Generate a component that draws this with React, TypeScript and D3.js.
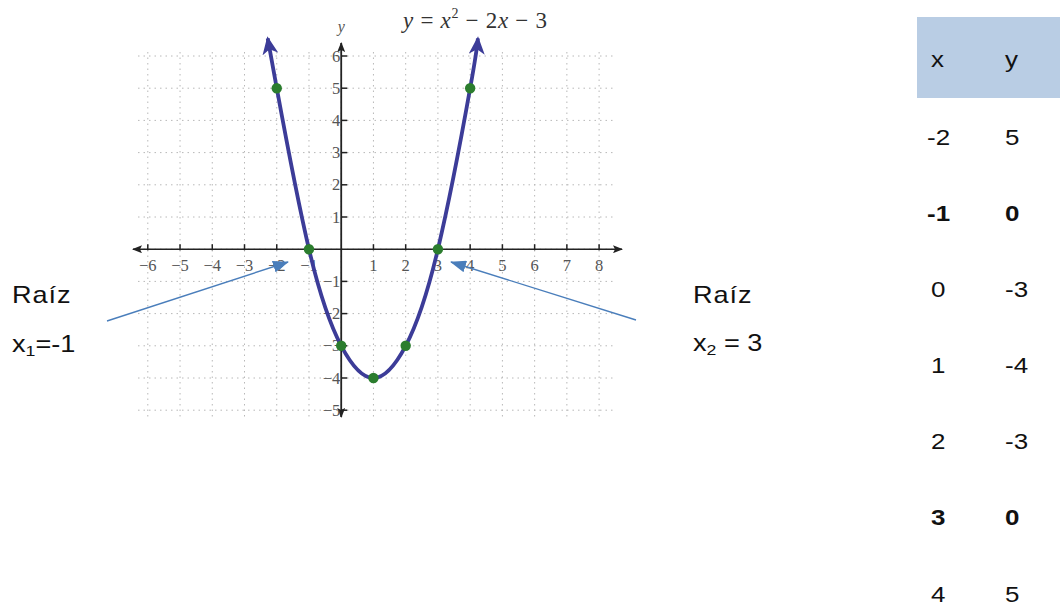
import React from 'react';
import { scaleLinear, scalePoint, line, curveNatural, range } from 'd3';

// table / points
const xVals = [-2, -1, 0, 1, 2, 3, 4];
const yVals = [5, 0, -3, -4, -3, 0, 5];
const rootRows = [1, 5];
// curve ends (arrow tips)
const curveStart = [-2.28, 6.55];
const curveEnd = [4.24, 6.55];
const xTicks = range(-6, 9).filter((d) => d !== 0);
const yTicks = range(-5, 7).filter((d) => d !== 0);

const W = 1060;
const H = 608;

const fmt = (d: number) => (d < 0 ? '\u2212' + Math.abs(d) : String(d));

export default function App() {
	const x = scaleLinear().domain([-6, 8]).range([147.8, 599.1]);
	const y = scaleLinear().domain([-5, 6]).range([410.2, 56]);
	const rowY = scalePoint<number>().domain(range(xVals.length)).range([137, 594]);

	const pts: [number, number][] = [
		[curveStart[0], curveStart[1]],
		...xVals.map((v, i) => [v, yVals[i]] as [number, number]),
		[curveEnd[0], curveEnd[1]],
	];
	const path = line<[number, number]>()
		.x((d) => x(d[0]))
		.y((d) => y(d[1]))
		.curve(curveNatural)(pts);

	const serif = '"Liberation Serif", "DejaVu Serif", serif';
	const sans = '"Liberation Sans", Arial, sans-serif';
	const gridX = range(-6, 9);
	const gridY = range(-5, 7);
	const gLeft = 138;
	const gRight = 616;
	const gTop = 48;
	const gBottom = 417;
	const sx = 1.18; // the sans text in the picture is a bit wide

	const wide = (tx: number, ty: number) => `translate(${tx},${ty}) scale(${sx},1)`;

	return (
		<svg
			width={W}
			height={H}
			style={{ position: 'absolute', left: 0, top: 0, background: '#fff' }}
		>
			<defs>
				<marker id="curveArrow" markerUnits="userSpaceOnUse" markerWidth="18" markerHeight="16"
					viewBox="0 0 18 16" refX="16" refY="8" orient="auto-start-reverse">
					<path d="M0,0 L18,8 L0,16 L5,8 Z" fill="#3c3c98" />
				</marker>
				<marker id="axisArrow" markerUnits="userSpaceOnUse" markerWidth="10" markerHeight="8"
					viewBox="0 0 10 8" refX="9" refY="4" orient="auto-start-reverse">
					<path d="M0,0 L10,4 L0,8 L2,4 Z" fill="#222" />
				</marker>
				<marker id="blueArrow" markerUnits="userSpaceOnUse" markerWidth="16" markerHeight="12"
					viewBox="0 0 16 12" refX="15" refY="6" orient="auto">
					<path d="M0,0 L16,6 L0,12 Z" fill="#4a7ebb" />
				</marker>
			</defs>

			{/* dotted grid */}
			<g stroke="#b8b8b8" strokeWidth={1} strokeDasharray="1.5,4">
				{gridX.map((d) => (
					<line key={'gx' + d} x1={x(d)} x2={x(d)} y1={gTop + 4} y2={gBottom} />
				))}
				{gridY.map((d) => (
					<line key={'gy' + d} x1={gLeft} x2={gRight} y1={y(d)} y2={y(d)} />
				))}
			</g>

			{/* axes */}
			<line x1={133} x2={622} y1={y(0)} y2={y(0)} stroke="#222" strokeWidth={1.6}
				markerStart="url(#axisArrow)" markerEnd="url(#axisArrow)" />
			<line x1={x(0)} x2={x(0)} y1={gBottom} y2={43} stroke="#222" strokeWidth={1.8}
				markerStart="url(#axisArrow)" markerEnd="url(#axisArrow)" />
			<g stroke="#222" strokeWidth={1.5}>
				{xTicks.map((d) => (
					<line key={'tx' + d} x1={x(d)} x2={x(d)} y1={y(0) - 5} y2={y(0) + 1} />
				))}
				{yTicks.map((d) => (
					<line key={'ty' + d} x1={x(0)} x2={x(0) + 6} y1={y(d)} y2={y(d)} />
				))}
			</g>
			<g fontFamily={serif} fontSize={16.5} fill="#555">
				{xTicks.map((d) => (
					<text key={'lx' + d} x={x(d)} y={y(0) + 22} textAnchor="middle">
						{fmt(d)}
					</text>
				))}
				{yTicks.map((d) => (
					<text key={'ly' + d} x={x(0) - 1} y={y(d) + 5.5} textAnchor="end">
						{fmt(d)}
					</text>
				))}
			</g>
			<text x={x(0)} y={32} textAnchor="middle" fontFamily={serif} fontStyle="italic"
				fontSize={16} fill="#555">
				y
			</text>

			{/* equation */}
			<text x={403} y={28} fontFamily={serif} fontSize={23} fill="#333"
				textLength={144} lengthAdjust="spacing">
				<tspan fontStyle="italic">y</tspan>
				<tspan> = </tspan>
				<tspan fontStyle="italic">x</tspan>
				<tspan fontSize={14} dy={-10}>2</tspan>
				<tspan dy={10}> − 2</tspan>
				<tspan fontStyle="italic">x</tspan>
				<tspan> − 3</tspan>
			</text>

			{/* parabola */}
			<path d={path || ''} fill="none" stroke="#3c3c98" strokeWidth={3.8}
				markerStart="url(#curveArrow)" markerEnd="url(#curveArrow)" />
			{xVals.map((v, i) => (
				<circle key={'p' + i} cx={x(v)} cy={y(yVals[i])} r={5.2} fill="#2b7d2e" />
			))}

			{/* root annotations */}
			<line x1={107} y1={321} x2={288} y2={262} stroke="#4a7ebb" strokeWidth={1.4}
				markerEnd="url(#blueArrow)" />
			<line x1={636} y1={320} x2={451} y2={262} stroke="#4a7ebb" strokeWidth={1.4}
				markerEnd="url(#blueArrow)" />
			<g fontFamily={sans} fontSize={23} fill="#111">
				<text transform={wide(12, 303)} letterSpacing={0.8}>Raíz</text>
				<text transform={wide(12, 352)}>
					x<tspan fontSize={15} dy={4}>1</tspan>
					<tspan dy={-4}>=-1</tspan>
				</text>
				<text transform={wide(693, 303)} letterSpacing={0.8}>Raíz</text>
				<text transform={wide(693, 351)}>
					x<tspan fontSize={15} dy={4}>2</tspan>
					<tspan dy={-4}> = 3</tspan>
				</text>
			</g>

			{/* value table */}
			<rect x={917} y={17} width={W - 917} height={81} fill="#b9cde4" />
			<g fontFamily={sans} fontSize={22} fill="#111">
				<text transform={wide(931, 67)}>x</text>
				<text transform={wide(1005, 67)}>y</text>
				{xVals.map((v, i) => {
					const bold = rootRows.includes(i);
					const ty = (rowY(i) || 0) + 7.5;
					return (
						<g key={'row' + i} fontWeight={bold ? 'bold' : 'normal'}>
							<text transform={wide(v < 0 ? 927 : 931, ty)}>{String(v)}</text>
							<text transform={wide(1005, ty)}>{String(yVals[i])}</text>
						</g>
					);
				})}
			</g>
		</svg>
	);
}
